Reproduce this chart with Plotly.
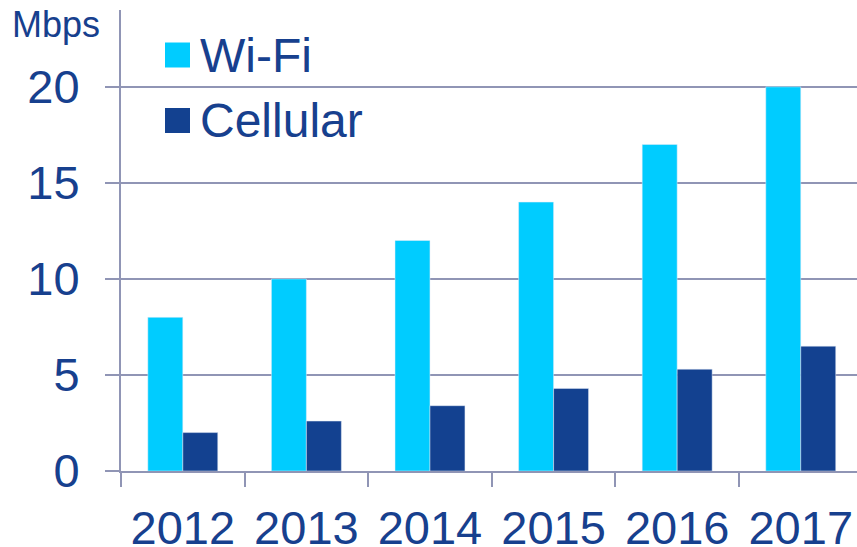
import plotly.graph_objects as go

years = ["2012", "2013", "2014", "2015", "2016", "2017"]
wifi = [8, 10, 12, 14, 17, 20]
cellular = [2.0, 2.6, 3.4, 4.3, 5.3, 6.5]
y_ticks = [0, 5, 10, 15, 20]

WIFI_C = "#00CCFF"
CELL_C = "#134190"
TEXT_C = "#17408E"
GRID_C = "#9095B5"
FONT = "Arial, Liberation Sans, sans-serif"

fig = go.Figure()
fig.add_trace(go.Bar(x=years, y=wifi, name="Wi-Fi", marker_color=WIFI_C, showlegend=False))
fig.add_trace(go.Bar(x=years, y=cellular, name="Cellular", marker_color=CELL_C, showlegend=False))

fig.update_layout(
    width=857, height=547,
    margin=dict(l=121, r=0, t=10, b=76, autoexpand=False),
    paper_bgcolor="white", plot_bgcolor="white",
    barmode="group", bargap=0.434, bargroupgap=0,
    font=dict(family=FONT, color=TEXT_C, size=47),
    xaxis=dict(
        type="category", range=[-0.5, 5.455], automargin=False,
        tickson="boundaries", ticks="outside", ticklen=14, tickwidth=2, tickcolor=GRID_C,
        showline=True, linecolor=GRID_C, linewidth=2, showgrid=False,
        tickfont=dict(size=47, color=TEXT_C), ticklabelstandoff=15,
    ),
    yaxis=dict(
        range=[0, 24], tickvals=y_ticks, ticktext=[str(v) for v in y_ticks],
        automargin=False,
        ticks="outside", ticklen=14, tickwidth=2, tickcolor=GRID_C,
        showline=True, linecolor=GRID_C, linewidth=2,
        showgrid=True, gridcolor=GRID_C, gridwidth=2, zeroline=False,
        tickfont=dict(size=47, color=TEXT_C), ticklabelstandoff=16,
    ),
)

def px_x(px):
    return (px - 121) / 736

def px_y(py):
    return (471 - py) / 461

# Unit label
fig.add_annotation(xref="paper", yref="paper", x=px_x(56), y=px_y(25),
                   text="Mbps", showarrow=False, font=dict(size=36, color=TEXT_C),
                   xanchor="center", yanchor="middle")

# Legend (manual, large squares)
legend_items = [("Wi-Fi", WIFI_C, 55), ("Cellular", CELL_C, 120.5)]
for label, col, cy in legend_items:
    fig.add_shape(type="rect", xref="paper", yref="paper",
                  x0=px_x(165), x1=px_x(190), y0=px_y(cy + 12.5), y1=px_y(cy - 12.5),
                  fillcolor=col, line=dict(width=0))
    fig.add_annotation(xref="paper", yref="paper", x=px_x(198), y=px_y(cy),
                       text=label, showarrow=False, xanchor="left", yanchor="middle",
                       font=dict(size=48, color=TEXT_C))

fig.write_html("out.html", config={"displayModeBar": False},
               post_script="document.body.style.margin='0';document.body.style.overflow='hidden';")
